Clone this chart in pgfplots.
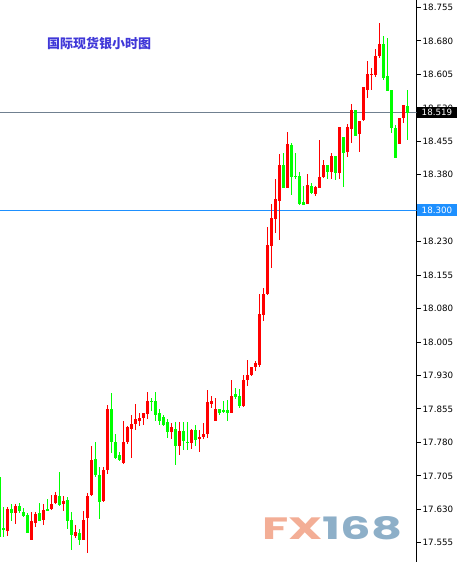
\documentclass[border=0pt]{standalone}
\usepackage{pgfplots}
\pgfplotsset{compat=1.18}
\usepackage{pgfplotstable}
\usepackage{fontspec}
\setmainfont{DejaVu Sans}
\newfontfamily\cjk{Noto Sans CJK SC}
\newfontfamily\logofont{Poppins}
\definecolor{cred}{RGB}{255,0,0}
\definecolor{cgreen}{RGB}{0,255,0}
\definecolor{lineblue}{RGB}{30,144,255}
\definecolor{linegray}{RGB}{112,128,144}
\definecolor{titleblue}{RGB}{64,56,216}
\definecolor{logoorange}{RGB}{243,174,150}
\definecolor{logoblue}{RGB}{141,175,200}

% n  body-top  body-bottom  high  low
\pgfplotstableread{
n top bot hi lo
1 17.702 17.568 17.702 17.568
2 17.588 17.583 17.635 17.568
4 17.630 17.621 17.643 17.605
6 17.637 17.626 17.645 17.621
7 17.625 17.614 17.633 17.612
8 17.617 17.577 17.621 17.576
11 17.621 17.605 17.645 17.603
13 17.630 17.628 17.654 17.628
16 17.661 17.639 17.713 17.637
18 17.652 17.605 17.657 17.585
19 17.607 17.572 17.624 17.539
21 17.578 17.561 17.587 17.550
25 17.742 17.706 17.780 17.702
26 17.708 17.646 17.726 17.608
29 17.854 17.781 17.890 17.756
30 17.782 17.746 17.800 17.744
31 17.751 17.740 17.758 17.738
39 17.874 17.870 17.880 17.850
40 17.872 17.841 17.892 17.828
41 17.847 17.829 17.856 17.820
42 17.836 17.820 17.842 17.816
43 17.825 17.803 17.833 17.789
45 17.811 17.772 17.825 17.729
47 17.805 17.783 17.825 17.764
48 17.782 17.780 17.825 17.764
50 17.807 17.786 17.820 17.773
56 17.856 17.847 17.856 17.841
57 17.852 17.849 17.874 17.846
58 17.852 17.846 17.876 17.828
60 17.888 17.881 17.903 17.878
61 17.884 17.861 17.900 17.858
72 18.403 18.350 18.428 18.350
74 18.446 18.374 18.452 18.334
75 18.378 18.376 18.428 18.370
76 18.378 18.314 18.387 18.312
77 18.318 18.312 18.354 18.312
79 18.354 18.339 18.361 18.337
83 18.401 18.386 18.401 18.370
85 18.421 18.384 18.423 18.368
87 18.464 18.428 18.464 18.352
90 18.526 18.468 18.526 18.466
97 18.674 18.597 18.690 18.592
98 18.602 18.567 18.686 18.567
99 18.571 18.484 18.571 18.474
100 18.484 18.418 18.492 18.418
103 18.535 18.519 18.571 18.459
}\greentab

\pgfplotstableread{
n top bot hi lo
3 17.630 17.581 17.635 17.571
5 17.637 17.621 17.641 17.598
9 17.605 17.561 17.623 17.561
10 17.619 17.599 17.623 17.590
12 17.628 17.607 17.641 17.596
14 17.643 17.630 17.663 17.628
15 17.663 17.644 17.670 17.643
17 17.648 17.641 17.659 17.626
20 17.580 17.571 17.594 17.565
22 17.607 17.561 17.626 17.561
23 17.661 17.610 17.666 17.532
24 17.740 17.663 17.773 17.660
27 17.719 17.648 17.724 17.647
28 17.854 17.719 17.865 17.710
32 17.782 17.734 17.829 17.731
33 17.814 17.780 17.816 17.776
34 17.821 17.811 17.841 17.745
35 17.832 17.821 17.867 17.807
36 17.834 17.827 17.847 17.816
37 17.845 17.834 17.847 17.820
38 17.874 17.843 17.892 17.832
44 17.814 17.803 17.823 17.787
46 17.805 17.772 17.825 17.751
49 17.807 17.778 17.811 17.765
51 17.793 17.789 17.807 17.758
52 17.800 17.792 17.823 17.788
53 17.870 17.799 17.897 17.791
54 17.874 17.867 17.885 17.858
55 17.856 17.829 17.879 17.827
59 17.885 17.846 17.919 17.846
62 17.919 17.861 17.932 17.860
63 17.932 17.919 17.964 17.906
64 17.950 17.931 17.950 17.929
65 17.957 17.949 17.962 17.941
66 18.067 17.953 18.112 17.950
67 18.112 18.065 18.127 18.053
68 18.222 18.113 18.263 18.110
69 18.282 18.220 18.315 18.171
70 18.325 18.281 18.370 18.249
71 18.403 18.321 18.426 18.233
73 18.450 18.350 18.475 18.350
78 18.358 18.314 18.381 18.314
80 18.352 18.337 18.354 18.332
81 18.376 18.350 18.457 18.350
82 18.401 18.375 18.414 18.373
84 18.421 18.386 18.428 18.370
86 18.486 18.384 18.487 18.370
88 18.486 18.430 18.493 18.419
89 18.526 18.482 18.538 18.452
91 18.500 18.471 18.500 18.431
92 18.576 18.502 18.576 18.500
93 18.606 18.571 18.636 18.553
94 18.606 18.604 18.620 18.571
95 18.647 18.604 18.662 18.600
96 18.674 18.646 18.721 18.641
101 18.508 18.448 18.508 18.448
102 18.537 18.508 18.537 18.497
}\redtab

\begin{document}
\begin{tikzpicture}
\begin{axis}[name=ax, scale only axis, width=416.5pt, height=562pt,
  xmin=1.125, xmax=105.25, ymin=17.5120, ymax=18.7718,
  axis x line=none, axis y line*=right,
  y axis line style={-, line width=1pt, black},
  ytick={17.555,17.630,17.705,17.780,17.855,17.930,18.005,18.080,18.155,18.230,18.305,18.380,18.455,18.530,18.605,18.680,18.755},
  yticklabels={17.555,17.630,17.705,17.780,17.855,17.930,18.005,18.080,18.155,18.230,18.305,18.380,18.455,18.530,18.605,18.680,18.755},
  tick align=outside, major tick length=4pt,
  tick style={black, line width=1pt},
  yticklabel style={font=\fontsize{8.7}{10}\selectfont, text=black, inner sep=0pt, xshift=2pt},
]
\addplot[linegray, line width=1pt, forget plot] coordinates {(1.125,18.519) (105.25,18.519)};
\addplot[lineblue, line width=1pt, forget plot] coordinates {(1.125,18.300) (105.25,18.300)};

% wicks
\addplot[cgreen, draw=none, mark=none, forget plot, error bars/.cd, y dir=both, y explicit, error mark=none,
  error bar style={color=cgreen, draw=cgreen, line width=1pt}]
  table[x=n, y expr={0.5*(\thisrow{hi}+\thisrow{lo})}, y error expr={0.5*(\thisrow{hi}-\thisrow{lo})}] {\greentab};
\addplot[cred, draw=none, mark=none, forget plot, error bars/.cd, y dir=both, y explicit, error mark=none,
  error bar style={color=cred, draw=cred, line width=1pt}]
  table[x=n, y expr={0.5*(\thisrow{hi}+\thisrow{lo})}, y error expr={0.5*(\thisrow{hi}-\thisrow{lo})}] {\redtab};
% bodies
\addplot[cgreen, draw=none, mark=none, forget plot, error bars/.cd, y dir=both, y explicit, error mark=none,
  error bar style={color=cgreen, draw=cgreen, line width=3pt}]
  table[x=n, y expr={0.5*(\thisrow{top}+\thisrow{bot})}, y error expr={0.5*(\thisrow{top}-\thisrow{bot})}] {\greentab};
\addplot[cred, draw=none, mark=none, forget plot, error bars/.cd, y dir=both, y explicit, error mark=none,
  error bar style={color=cred, draw=cred, line width=3pt}]
  table[x=n, y expr={0.5*(\thisrow{top}+\thisrow{bot})}, y error expr={0.5*(\thisrow{top}-\thisrow{bot})}] {\redtab};

\coordinate (l519) at (axis cs:105.25,18.519);
\coordinate (l300) at (axis cs:105.25,18.300);
\end{axis}
\node[anchor=west, fill=black, text=white, minimum width=40.5pt, minimum height=11pt, inner sep=0pt,
  font=\fontsize{8.7}{10}\selectfont] at (l519) {18.519};
\node[anchor=west, fill=lineblue, text=white, minimum width=40.5pt, minimum height=12pt, inner sep=0pt,
  font=\fontsize{8.7}{10}\selectfont] at (l300) {18.300};
\node[anchor=west, text=titleblue, font=\cjk\bfseries\fontsize{13}{13}\selectfont, inner sep=0pt]
  at ([xshift=47pt, yshift=-43.5pt]ax.north west) {国际现货银小时图};
\node[anchor=south west, inner sep=0pt] at ([xshift=262pt, yshift=22pt]ax.south west)
  {\resizebox{140pt}{23pt}{\logofont\bfseries\textcolor{logoorange}{FX}\textcolor{logoblue}{168}}};
\pgfresetboundingbox
\path[use as bounding box] (ax.south west) rectangle ([xshift=40.5pt]ax.north east);
\end{tikzpicture}
\end{document}
